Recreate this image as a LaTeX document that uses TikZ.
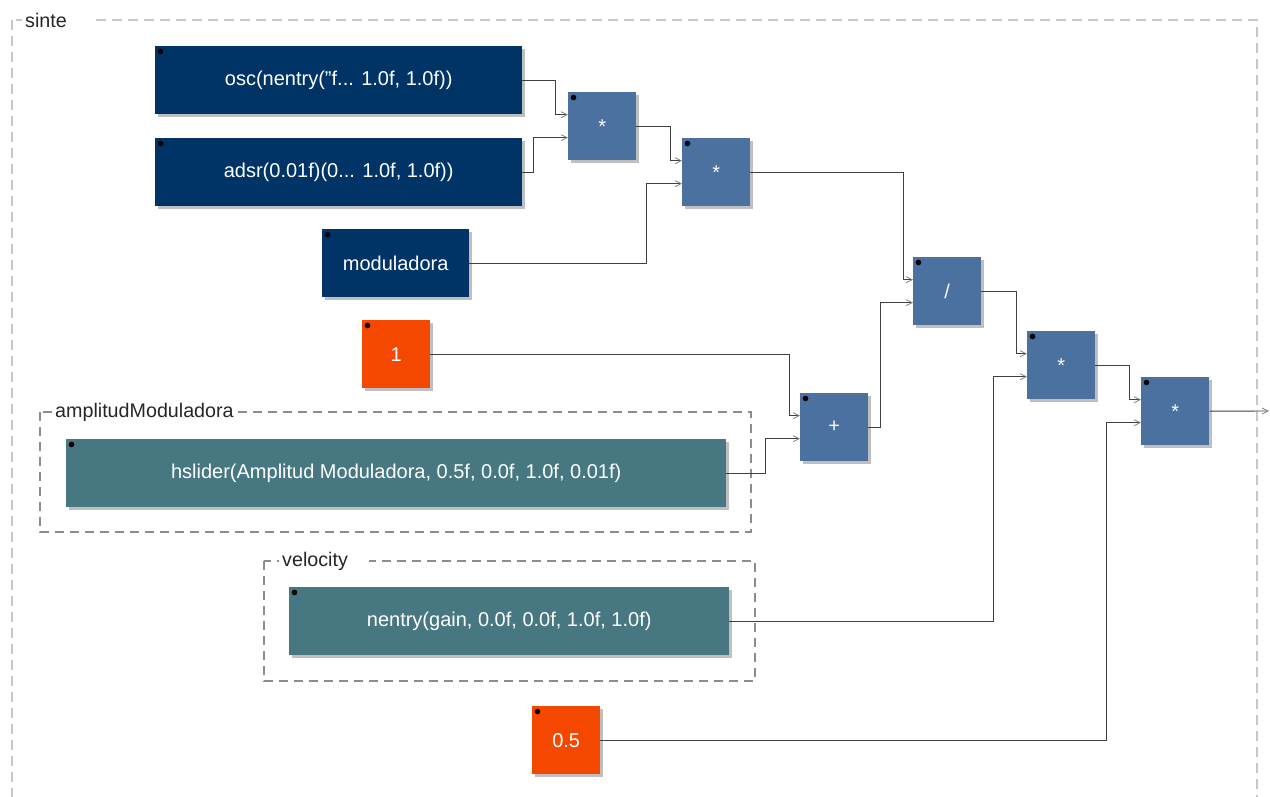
\documentclass[tikz,border=0pt]{standalone}
\usepackage{fontspec}
\setmainfont{Liberation Sans}
\usetikzlibrary{arrows.meta,shadows}
\definecolor{linkc}{HTML}{003366}
\definecolor{normc}{HTML}{4B71A1}
\definecolor{uic}{HTML}{477881}
\definecolor{numc}{HTML}{F44800}
\tikzset{
  blk/.style={anchor=north west, inner sep=0pt, text=white,
    font=\fontsize{20}{24}\selectfont,
    drop shadow={shadow xshift=2.5pt, shadow yshift=-2.5pt, fill=black!25, opacity=1}},
  linkbox/.style={blk, fill=linkc, minimum width=367pt, minimum height=68pt},
  opbox/.style={blk, fill=normc, minimum width=68pt, minimum height=68pt},
  numbox/.style={blk, fill=numc, minimum width=68pt, minimum height=68pt},
  uibox/.style={blk, fill=uic, minimum height=68pt},
  wire/.style={draw=black!75, line width=0.9pt,
    -{Straight Barb[length=6pt,width=6pt,color=black!50,line width=0.8pt]}},
  grp/.style={draw=black!45, line width=1.4pt, dash pattern=on 9pt off 6pt},
  outergrp/.style={draw=black!22, line width=1.6pt, dash pattern=on 10pt off 6pt},
  glabel/.style={anchor=west, fill=white, inner xsep=3pt, inner ysep=1pt, align=left,
    font=\fontsize{19.7}{23}\selectfont, text=black!85}
}
\newcommand{\corner}[1]{\fill[black] ([xshift=5.5pt,yshift=-5.5pt]#1.north west) circle (2.8pt);}
\begin{document}
\begin{tikzpicture}[x=1pt,y=-1pt]
\useasboundingbox (0,0) rectangle (1270,797);
\clip (0,0) rectangle (1270,797);
\fill[white] (0,0) rectangle (1270,797);
% groups
\draw[outergrp] (12,20) rectangle (1257,830);
\node[glabel, text width=62pt] (lsinte) at (22,20) {sinte};
\draw[grp] (40,412) rectangle (751,532);
\node[glabel, text width=178pt] (lamp) at (52,412) {amplitudModuladora};
\draw[grp] (264,561) rectangle (755,681);
\node[glabel, text width=84pt] (lvel) at (279,561) {velocity};
% blocks
\node[linkbox] (osc) at (155,46) {osc(nentry({\char34}f... 1.0f, 1.0f))};
\node[linkbox] (adsr) at (155,138) {adsr(0.01f)(0... 1.0f, 1.0f))};
\node[linkbox, minimum width=147pt] (mod) at (322,229) {moduladora};
\node[numbox] (one) at (362,320) {1};
\node[uibox, minimum width=660pt] (hsl) at (66,439) {hslider(Amplitud Moduladora, 0.5f, 0.0f, 1.0f, 0.01f)};
\node[uibox, minimum width=440pt] (nent) at (289,587) {nentry(gain, 0.0f, 0.0f, 1.0f, 1.0f)};
\node[numbox] (half) at (532,706) {0.5};
\node[opbox] (m1) at (568,92) {*};
\node[opbox] (m2) at (682,138) {*};
\node[opbox] (dv) at (913,257) {/};
\node[opbox] (pl) at (800,393) {+};
\node[opbox] (m3) at (1027,331) {*};
\node[opbox] (m4) at (1141,377) {*};
\foreach \n in {osc,adsr,mod,one,hsl,nent,half,m1,m2,dv,pl,m3,m4} {\corner{\n}}
% wires
\draw[wire] (osc.east) -- ++(33,0) |- ([yshift=11.5pt]m1.west);
\draw[wire] (adsr.east) -- ++(11,0) |- ([yshift=-11.5pt]m1.west);
\draw[wire] (m1.east) -- ++(34,0) |- ([yshift=11.5pt]m2.west);
\draw[wire] (mod.east) -- ++(177,0) |- ([yshift=-11.5pt]m2.west);
\draw[wire] (m2.east) -- ++(153,0) |- ([yshift=11.5pt]dv.west);
\draw[wire] (pl.east) -- ++(12,0) |- ([yshift=-11.5pt]dv.west);
\draw[wire] (one.east) -- ++(359,0) |- ([yshift=11.5pt]pl.west);
\draw[wire] (hsl.east) -- ++(39,0) |- ([yshift=-11.5pt]pl.west);
\draw[wire] (dv.east) -- ++(35,0) |- ([yshift=11.5pt]m3.west);
\draw[wire] (nent.east) -- ++(264,0) |- ([yshift=-11.5pt]m3.west);
\draw[wire] (m3.east) -- ++(34,0) |- ([yshift=11.5pt]m4.west);
\draw[wire] (half.east) -- ++(506,0) |- ([yshift=-11.5pt]m4.west);
\coordinate (out) at (1269,411);
\draw[wire] (m4.east) -- (out);
\end{tikzpicture}
\end{document}
